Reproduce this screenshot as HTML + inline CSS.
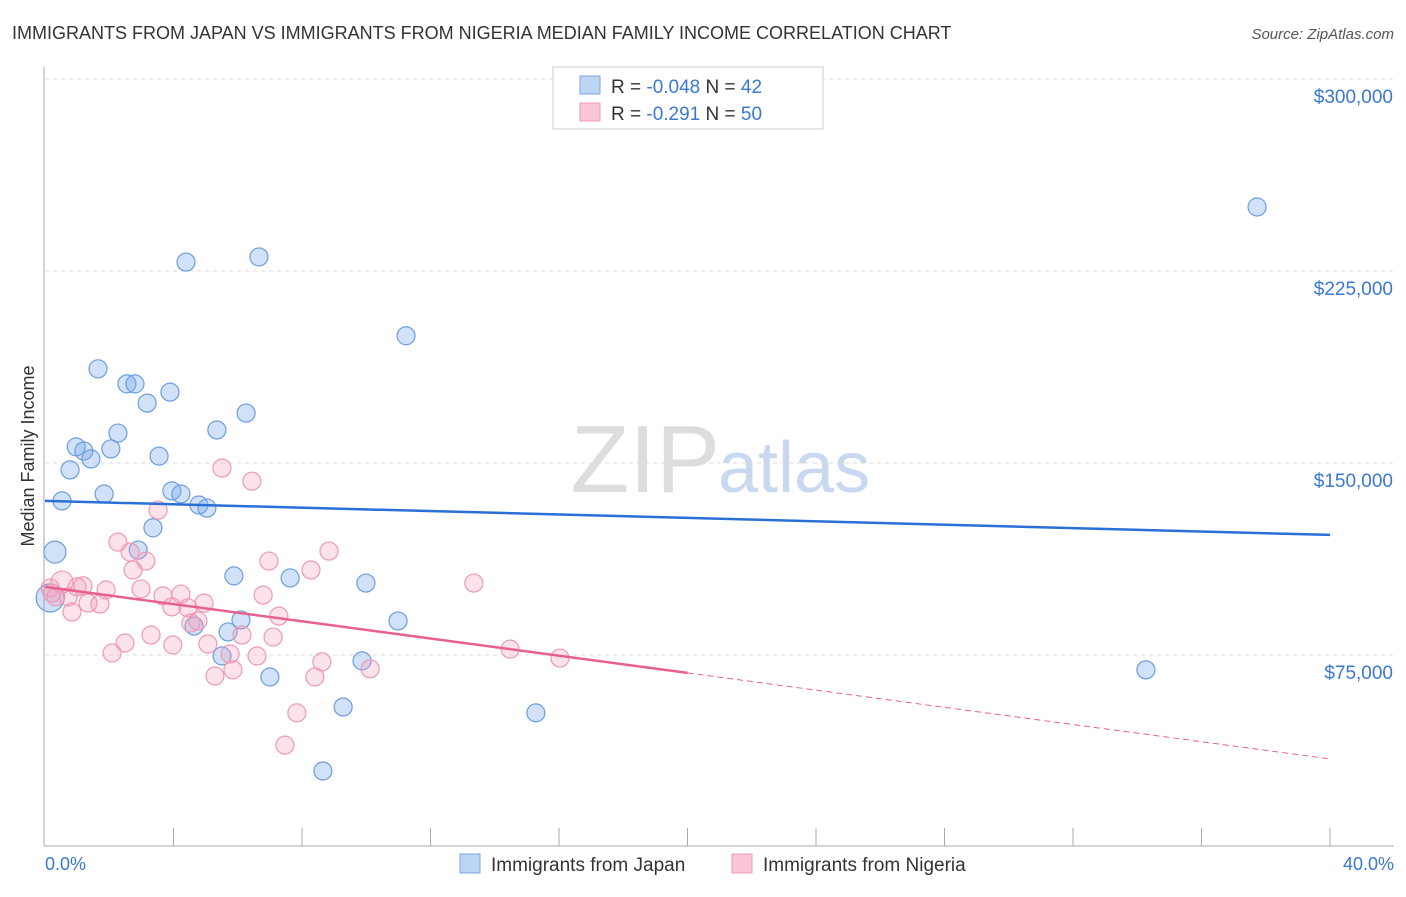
<!DOCTYPE html>
<html><head><meta charset="utf-8"><style>
body{margin:0;background:#fff;font-family:"Liberation Sans",sans-serif;}
svg text{font-family:"Liberation Sans",sans-serif;}
</style></head><body>
<svg id="chart" width="1406" height="892">
<text x="12" y="39" font-size="18" fill="#333">IMMIGRANTS FROM JAPAN VS IMMIGRANTS FROM NIGERIA MEDIAN FAMILY INCOME CORRELATION CHART</text>
<text x="1394" y="39" font-size="15" fill="#555" font-style="italic" text-anchor="end">Source: ZipAtlas.com</text>
<text x="720" y="492" font-size="96" fill="#ddd" font-family="Liberation Serif" text-anchor="end">ZIP</text>
<text x="718" y="492" font-size="72" fill="#c8d8ef">atlas</text>
<g id="grid"></g><g id="axes"></g><g id="pts"></g><g id="trend"></g>
<text transform="translate(34,456) rotate(-90)" font-size="18" fill="#333" text-anchor="middle">Median Family Income</text>
<text x="45" y="870" font-size="18" fill="#3a78d4">0.0%</text>
<text x="1394" y="870" font-size="18" fill="#3a78d4" text-anchor="end">40.0%</text>
<g>
<rect x="553" y="67" width="270" height="62" fill="#fff" stroke="#ccc"/>
<rect x="580" y="76" width="20" height="18" fill="#bcd5f5" stroke="#7aa8e6"/>
<rect x="580" y="103" width="20" height="18" fill="#f9c7d6" stroke="#ee9ab4"/>
<text x="611" y="93" font-size="19" fill="#333">R = <tspan fill="#3a78d4">-0.048</tspan>   N = <tspan fill="#3a78d4">42</tspan></text>
<text x="611" y="120" font-size="19" fill="#333">R =  <tspan fill="#3a78d4">-0.291</tspan>   N = <tspan fill="#3a78d4">50</tspan></text>
</g>
<g>
<rect x="460" y="854" width="20" height="19" fill="#bcd5f5" stroke="#7aa8e6"/>
<text x="491" y="871" font-size="19" fill="#333">Immigrants from Japan</text>
<rect x="732" y="854" width="20" height="19" fill="#f9c7d6" stroke="#ee9ab4"/>
<text x="763" y="871" font-size="19" fill="#333">Immigrants from Nigeria</text>
</g>
</svg>
<script>
const yTicks=[75000,150000,225000,300000];
const yTickLabels=["$75,000","$150,000","$225,000","$300,000"];
const japanX=[37.73,4.39,6.66,11.24,1.65,2.55,2.80,3.18,3.89,6.26,2.27,5.35,0.97,1.21,1.43,2.05,3.55,0.78,3.95,4.23,1.84,4.79,5.04,0.53,3.36,0.31,2.90,5.88,7.63,9.99,6.10,10.99,4.64,5.70,5.51,9.87,7.00,9.28,15.28,8.65,34.27,0.16];
const japanY=[250000,228500,230500,199700,186800,180900,180900,173400,177700,169500,161700,162900,156300,154700,151600,155500,152700,147300,139100,137900,137900,133600,132400,135200,124700,115200,116000,105900,105100,103100,88700,88300,86300,84000,74600,72700,66400,54700,52400,29700,69200,97300];
const japanR=[9,9,9,9,9,9,9,9,9,9,9,9,9,9,9,9,9,9,9,9,9,9,9,9,9,11,9,9,9,9,9,9,9,9,9,9,9,9,9,9,9,14];
const nigeriaX=[5.51,6.44,3.52,2.27,2.65,3.14,2.74,6.97,8.84,8.28,2.99,3.67,4.23,4.95,3.95,4.45,6.79,7.28,4.76,4.54,6.13,7.10,3.30,2.49,3.98,2.09,5.07,5.76,6.60,8.62,5.85,5.29,8.40,10.12,7.84,7.47,0.53,1.18,1.00,1.90,0.22,0.72,1.34,1.71,0.84,0.16,13.35,14.48,16.03,0.34];
const nigeriaY=[148000,142900,131600,119100,115200,111700,108200,111700,115600,108200,100800,98100,98800,95300,93800,93400,98400,90200,88300,87500,82800,82000,82800,79700,78900,75800,79300,75400,74600,72300,69200,66800,66400,69600,52400,39800,103500,102000,101600,100400,99200,97700,95300,94900,91800,101200,103100,77300,73800,97700];
const japanTrend=[135200,121900];
const nigeriaTrend=[101600,34400];
const X0=45,X1=1330,Y0=79,PX75=192;
const sx=v=>X0+(v/40)*(X1-X0);
const sy=v=>Y0+(300000-v)/75000*PX75;
const NS="http://www.w3.org/2000/svg";
function mk(tag,attrs,parent){const e=document.createElementNS(NS,tag);for(const k in attrs)e.setAttribute(k,attrs[k]);document.getElementById(parent).appendChild(e);return e;}
yTicks.forEach((t,i)=>{
 const l=mk('line',{x1:45,x2:1394,y1:sy(t),y2:sy(t),stroke:'#ddd','stroke-dasharray':'4,4'},'grid');
 
 
 const tx=mk('text',{x:1393,y:sy(t)+24,'font-size':19,fill:'#3a78d4','text-anchor':'end'},'grid');
 tx.textContent=yTickLabels[i];
 
 
});
const ya=mk('line',{x1:44,x2:44,y1:67,y2:846,stroke:'#aaa'},'axes');


const xa=mk('line',{x1:44,x2:1394,y1:846,y2:846,stroke:'#aaa'},'axes');


for(let i=1;i<=10;i++){
 const t=mk('line',{x1:sx(i*4),x2:sx(i*4),y1:828,y2:846,stroke:'#aaa'},'axes');
 
 
}
japanX.forEach((x,i)=>{
 const c=mk('circle',{cx:sx(x),cy:sy(japanY[i]),r:japanR[i],fill:'rgba(120,170,235,0.35)',stroke:'#6b9de0','stroke-width':1.2},'pts');
 
 
});
nigeriaX.forEach((x,i)=>{
 const c=mk('circle',{cx:sx(x),cy:sy(nigeriaY[i]),r:i==36?11:9,fill:'rgba(245,160,190,0.3)',stroke:'#ee99b5','stroke-width':1.2},'pts');
 
 
});
const jl=mk('line',{x1:sx(0),y1:sy(japanTrend[0]),x2:sx(40),y2:sy(japanTrend[1]),stroke:'#2a6fd6','stroke-width':2.5},'trend');


const nMid=nigeriaTrend[0]+(nigeriaTrend[1]-nigeriaTrend[0])*0.5;
const nl=mk('line',{x1:sx(0),y1:sy(nigeriaTrend[0]),x2:sx(20),y2:sy(nMid),stroke:'#e8608e','stroke-width':2.5},'trend');


const nd=mk('line',{x1:sx(20),y1:sy(nMid),x2:sx(40),y2:sy(nigeriaTrend[1]),stroke:'#e8608e','stroke-width':1,'stroke-dasharray':'6,4'},'trend');


</script>
</body></html>
